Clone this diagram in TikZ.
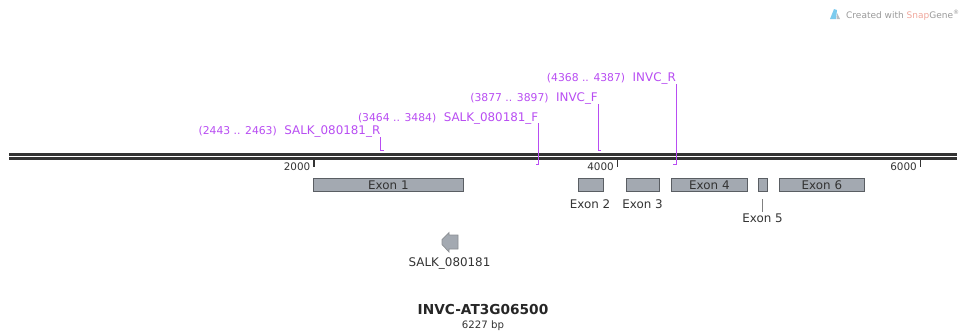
\documentclass[tikz,border=0pt]{standalone}
\usepackage{fontspec}
\setmainfont{DejaVu Sans}
\definecolor{primer}{HTML}{B84DF2}
\definecolor{exonfill}{HTML}{A3A9B1}
\definecolor{exonline}{HTML}{5A5E63}
\definecolor{labelgray}{HTML}{333333}
\definecolor{logoblue}{HTML}{7CCBEE}
\definecolor{logogray}{HTML}{B9BDC2}
\definecolor{snap}{HTML}{F0A79C}
\newcommand{\coordfont}{\fontsize{10.8}{12}\selectfont}
\newcommand{\namefont}{\fontsize{11.9}{13}\selectfont}
\tikzset{x=1pt,y=-1pt,
  primertext/.style={inner sep=0pt,anchor=base east,text=primer},
  primerline/.style={draw=primer,line width=1pt},
  exonbox/.style={draw=exonline,fill=exonfill,line width=.8pt,inner sep=0pt,text=labelgray,font=\namefont},
  plain/.style={inner sep=0pt,text=labelgray,font=\namefont},
  ticktext/.style={inner sep=0pt,anchor=base east,text=labelgray,font=\fontsize{10.4}{12}\selectfont},
  tickmark/.style={draw=black!80,line width=1.6pt},
  backbone/.style={draw=black!80,line width=2.8pt},
}
\newcommand{\ebox}[6]{\node[exonbox,minimum width=#3 pt,minimum height=#4 pt,anchor=north west] (#1) at (#2,#5) {#6};}
\newcommand{\primerlabel}[2]{{\coordfont(#1)}\hspace{7.5pt}{\namefont #2}}
\begin{document}
\begin{tikzpicture}
\useasboundingbox (0,0) rectangle (959,333);
% backbone
\coordinate (bl) at (9,154.7); \coordinate (br) at (957,154.7);
\coordinate (cl) at (9,158.5); \coordinate (cr) at (957,158.5);
\draw[backbone] (bl) -- (br);
\draw[backbone] (cl) -- (cr);
% ticks
\foreach \n/\xx in {2000/314,4000/617.5,6000/920.5}{
  \draw[tickmark] (\xx,159) -- (\xx,167);
  \node[ticktext] (t\n) at (\xx-3.5,170) {\n};
}
% primers
\node[primertext] (p1) at (380.5,134) {\primerlabel{2443 .. 2463}{SALK\_080181\_R}};
\draw[primerline] (380.5,137) -- (380.5,150) -- (384,150);
\node[primertext] (p2) at (538.5,121) {\primerlabel{3464 .. 3484}{SALK\_080181\_F}};
\draw[primerline] (538.5,123) -- (538.5,164) -- (536,164);
\node[primertext] (p3) at (598,101) {\primerlabel{3877 .. 3897}{INVC\_F}};
\draw[primerline] (598.5,104) -- (598.5,150) -- (601,150);
\node[primertext] (p4) at (676,81) {\primerlabel{4368 .. 4387}{INVC\_R}};
\draw[primerline] (676.5,84) -- (676.5,164) -- (673,164);
% exons
\ebox{e1}{313.3}{149.4}{12.7}{178.3}{Exon 1}
\ebox{e2}{577.7}{25}{12.7}{178.3}{}
\ebox{e3}{626}{32.7}{12.7}{178.3}{}
\ebox{e4}{671.3}{75.4}{12.7}{178.3}{Exon 4}
\ebox{e5}{758}{8.6}{12.7}{178.3}{}
\ebox{e6}{779}{85}{12.7}{178.3}{Exon 6}
\node[plain,anchor=base] (l2) at (590,208) {Exon 2};
\node[plain,anchor=base] (l3) at (642.5,208) {Exon 3};
\node[plain,anchor=base] (l5) at (762.5,222.5) {Exon 5};
\coordinate (a5) at (762.3,199.3);
\coordinate (b5) at (762.3,211.7);
\draw[gray,line width=.6pt] (a5) -- (b5);
% feature
\node[plain,anchor=base] (salk) at (449.5,266) {SALK\_080181};
\draw[fill=exonfill,draw=exonline!70,line width=.7pt] (458,235) -- (449,235) -- (449,232.5) -- (442,239.5) -- (442,244.5) -- (449,252) -- (449,249) -- (458,249) -- cycle;
% title
\node[inner sep=0pt,anchor=base,text=black!85,font=\fontsize{13.7}{15}\bfseries\selectfont] (title) at (483,314.5) {INVC-AT3G06500};
\node[plain,anchor=base,font=\fontsize{10.2}{12}\selectfont] (bp) at (483,328) {6227 bp};
% logo
\fill[logoblue] (830,19) -- (834,9) -- (837,10) -- (836,19) -- cycle;
\fill[logogray] (837,13) -- (840,19) -- (836.5,19) -- cycle;
\node[inner sep=0pt,anchor=base west,text=black!40,font=\fontsize{9}{11}\selectfont] (logo) at (846,18) {Created with \textcolor{snap}{Snap}Gene\textsuperscript{®}};
\end{tikzpicture}
\end{document}
